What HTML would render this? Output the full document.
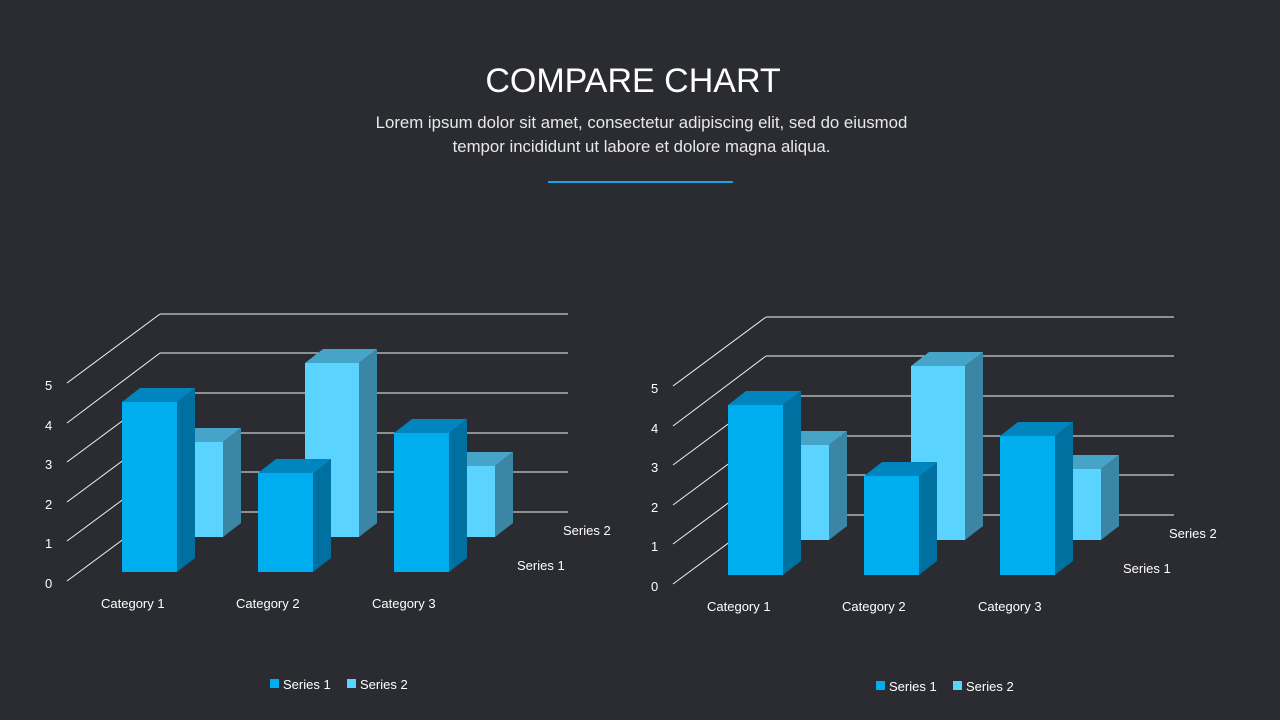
<!DOCTYPE html>
<html><head><meta charset="utf-8"><style>
html,body{margin:0;padding:0;background:#2b2c31;}
body{width:1280px;height:720px;overflow:hidden;position:relative;font-family:"Liberation Sans",sans-serif;}
.t{position:absolute;left:0;width:1266px;text-align:center;color:#fff;}
</style></head><body>
<div class="t" style="top:62px;font-size:34px;font-weight:300;">COMPARE CHART</div>
<div class="t" style="top:111px;width:1283px;font-size:16.8px;line-height:24px;color:#e8e8e8;">Lorem ipsum dolor sit amet, consectetur adipiscing elit, sed do eiusmod<br>tempor incididunt ut labore et dolore magna aliqua.</div>
<div style="position:absolute;left:548px;top:181px;width:185px;height:1.5px;background:#1aa3e0;"></div>
<svg width="1280" height="720" style="position:absolute;left:0;top:0" xmlns="http://www.w3.org/2000/svg">
<defs>
<g id="chart" font-family="Liberation Sans, sans-serif" font-size="13" fill="#fff">
  <g stroke="#f2f2f2" stroke-width="1">
    <line x1="160" y1="314" x2="568" y2="314"/><line x1="160" y1="353" x2="568" y2="353"/>
    <line x1="160" y1="393" x2="568" y2="393"/><line x1="160" y1="433" x2="568" y2="433"/>
    <line x1="160" y1="472" x2="568" y2="472"/><line x1="160" y1="512" x2="568" y2="512"/>
    <line x1="67" y1="383" x2="160" y2="314"/><line x1="67" y1="423" x2="160" y2="353"/>
    <line x1="67" y1="462" x2="160" y2="393"/><line x1="67" y1="502" x2="160" y2="433"/>
    <line x1="67" y1="541" x2="160" y2="472"/><line x1="67" y1="581" x2="160" y2="512"/>
  </g>
  <g stroke="none">
  <text x="45" y="588">0</text><text x="45" y="548">1</text><text x="45" y="509">2</text>
  <text x="45" y="469">3</text><text x="45" y="430">4</text><text x="45" y="390">5</text>
  <text x="563" y="535">Series 2</text><text x="517" y="570">Series 1</text>
  <text x="101" y="608">Category 1</text><text x="236" y="608">Category 2</text><text x="372" y="608">Category 3</text>
  </g>
  <g>
    <polygon points="169,442 187,428 241,428 223,442" fill="#46a4c8"/>
    <polygon points="223,442 241,428 241,523 223,537" fill="#3a86a4"/>
    <rect x="169" y="442" width="54" height="95" fill="#5bd3ff"/>
    <polygon points="305,363 323,349 377,349 359,363" fill="#46a4c8"/>
    <polygon points="359,363 377,349 377,523 359,537" fill="#3a86a4"/>
    <rect x="305" y="363" width="54" height="174" fill="#5bd3ff"/>
    <polygon points="441,466 459,452 513,452 495,466" fill="#46a4c8"/>
    <polygon points="495,466 513,452 513,523 495,537" fill="#3a86a4"/>
    <rect x="441" y="466" width="54" height="71" fill="#5bd3ff"/>
  </g>
  <g>
    <polygon points="122,402 140,388 195,388 177,402" fill="#0085be"/>
    <polygon points="177,402 195,388 195,558 177,572" fill="#0070a0"/>
    <rect x="122" y="402" width="55" height="170" fill="#00aeef"/>
    <polygon points="258,473 276,459 331,459 313,473" fill="#0085be"/>
    <polygon points="313,473 331,459 331,558 313,572" fill="#0070a0"/>
    <rect x="258" y="473" width="55" height="99" fill="#00aeef"/>
    <polygon points="394,433 412,419 467,419 449,433" fill="#0085be"/>
    <polygon points="449,433 467,419 467,558 449,572" fill="#0070a0"/>
    <rect x="394" y="433" width="55" height="139" fill="#00aeef"/>
  </g>
</g>
</defs>
<use href="#chart"/>
<use href="#chart" transform="translate(606,3)"/>
<g font-family="Liberation Sans, sans-serif" font-size="13" fill="#fff">
  <rect x="270" y="679" width="9" height="9" fill="#00aeef"/><text x="283" y="689">Series 1</text>
  <rect x="347" y="679" width="9" height="9" fill="#5bd3ff"/><text x="360" y="689">Series 2</text>
  <rect x="876" y="681" width="9" height="9" fill="#00aeef"/><text x="889" y="691">Series 1</text>
  <rect x="953" y="681" width="9" height="9" fill="#5bd3ff"/><text x="966" y="691">Series 2</text>
</g>
</svg>
</body></html>
